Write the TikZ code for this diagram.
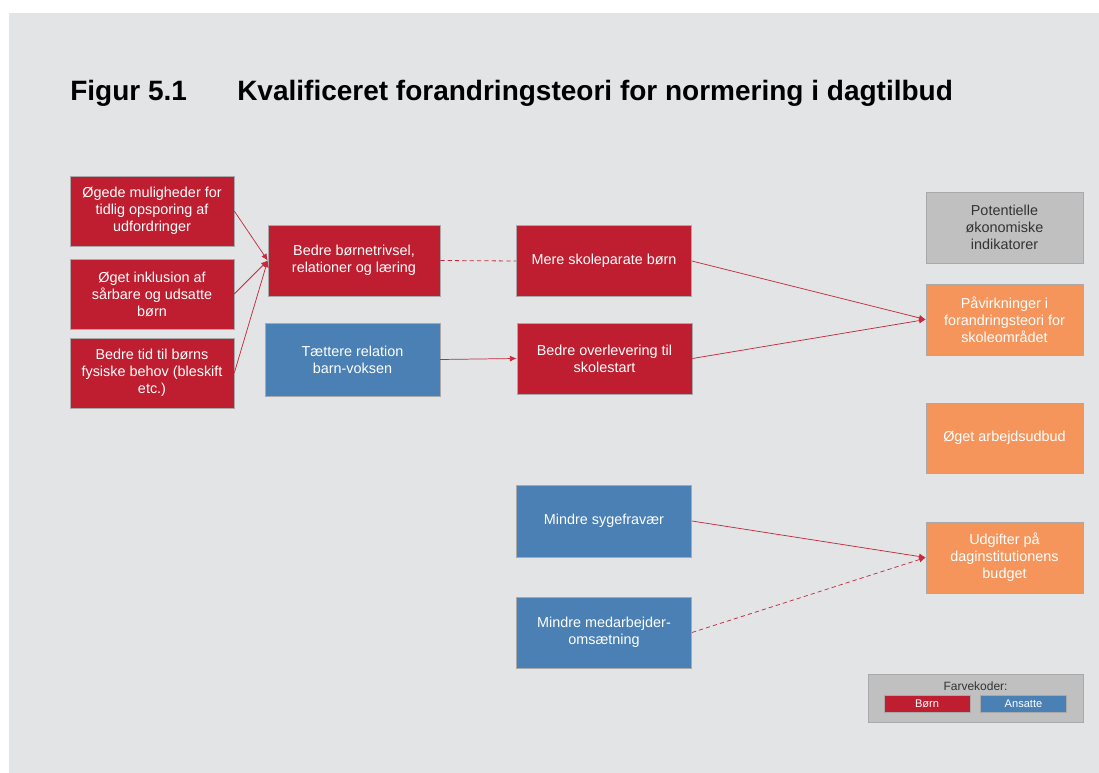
\documentclass[tikz,border=0pt]{standalone}
\usepackage{fontspec}
\setmainfont{Liberation Sans}
\usetikzlibrary{arrows.meta}

\definecolor{bgGrey}{HTML}{E3E4E6}
\definecolor{boxRed}{HTML}{BE1E2F}
\definecolor{boxBlue}{HTML}{4A80B4}
\definecolor{boxOrange}{HTML}{F5955B}
\definecolor{boxGrey}{HTML}{C0C0C0}
\definecolor{lineRed}{HTML}{C52B3C}
\definecolor{edgeGrey}{HTML}{A9A9AB}

\tikzset{
  box/.style={rectangle, inner sep=0pt, align=center, draw=edgeGrey, line width=0.4pt,
    font=\fontsize{10.8}{12.75}\selectfont},
  redbox/.style={box, fill=boxRed, text=white},
  bluebox/.style={box, fill=boxBlue, text=white},
  orangebox/.style={box, fill=boxOrange, text=white},
  greybox/.style={box, fill=boxGrey, text=black!80},
  leftsize/.style={minimum width=123pt, minimum height=52.5pt},
  midsize/.style={minimum width=131.5pt, minimum height=53.25pt},
  rightsize/.style={minimum width=117.75pt, minimum height=53.25pt},
  titletext/.style={anchor=base west, inner sep=0pt, font=\fontsize{21}{25}\selectfont\bfseries},
  link/.style={draw=lineRed, line width=0.55pt, -{Latex[length=5pt,width=4.5pt]}},
  dashlink/.style={link, dash pattern=on 3.2pt off 2.3pt},
  keybox/.style={rectangle, inner sep=0pt, draw=edgeGrey, line width=0.4pt, text=white,
    minimum width=64.5pt, minimum height=12.75pt, font=\fontsize{8.3}{9}\selectfont}
}

\begin{document}
\begin{tikzpicture}[x=0.75pt,y=-0.75pt]
\useasboundingbox (0,0) rectangle (1099,773);
\fill[white] (0,0) rectangle (1099,773);
\fill[bgGrey] (9,13) rectangle (1099,773);

\node[titletext] (fignum) at (70,101) {Figur 5.1};
\node[titletext] (figtitle) at (237,101) {Kvalificeret forandringsteori for normering i dagtilbud};

\node[redbox, leftsize] (a1) at (152,211) {Øgede muligheder for\\tidlig opsporing af\\udfordringer};
\node[redbox, leftsize] (a2) at (152,294) {Øget inklusion af\\sårbare og udsatte\\børn};
\node[redbox, leftsize] (a3) at (152,373) {Bedre tid til børns\\fysiske behov (bleskift\\etc.)};

\node[redbox, minimum width=129pt, minimum height=53.25pt] (b1) at (354,260.5) {Bedre børnetrivsel,\\relationer og læring};
\node[bluebox, minimum width=131pt, minimum height=54.75pt] (b2) at (352.5,359.5) {Tættere relation\\barn-voksen};

\node[redbox, midsize] (c1) at (604,261) {Mere skoleparate børn};
\node[redbox, midsize] (c2) at (604.5,358.5) {Bedre overlevering til\\skolestart};
\node[bluebox, midsize, minimum height=54pt] (c3) at (604,521) {Mindre sygefravær};
\node[bluebox, midsize] (c4) at (604,632.5) {Mindre medarbejder-\\omsætning};

\node[greybox, rightsize] (d0) at (1004.5,227.5) {Potentielle\\økonomiske\\indikatorer};
\node[orangebox, rightsize] (d1) at (1004.5,319.5) {Påvirkninger i\\forandringsteori for\\skoleområdet};
\node[orangebox, rightsize, minimum height=52.5pt] (d2) at (1004.5,438) {Øget arbejdsudbud};
\node[orangebox, rightsize] (d3) at (1004.5,557.5) {Udgifter på\\daginstitutionens\\budget};

\draw[link] (a1.east) -- (b1.west);
\draw[link] (a2.east) -- (b1.west);
\draw[link] (a3.east) -- (b1.west);
\draw[draw=lineRed, line width=0.6pt, dash pattern=on 3.2pt off 2.3pt] (b1.east) -- (c1.west);
\draw[link] (b2.east) -- (c2.west);
\draw[link] (c1.east) -- (d1.west);
\draw[link] (c2.east) -- (d1.west);
\draw[link] (c3.east) -- (d3.west);
\draw[dashlink] (c4.east) -- (d3.west);

\node[rectangle, fill=boxGrey, draw=edgeGrey, line width=0.4pt, minimum width=161.25pt, minimum height=36pt] (key) at (975.5,698) {};
\node[text=black!80, font=\fontsize{9}{10}\selectfont] (keytitle) at (975.5,686) {Farvekoder:};
\node[keybox, fill=boxRed] (keyred) at (927,703.5) {Børn};
\node[keybox, fill=boxBlue] (keyblue) at (1023.5,703.5) {Ansatte};
\end{tikzpicture}
\end{document}
